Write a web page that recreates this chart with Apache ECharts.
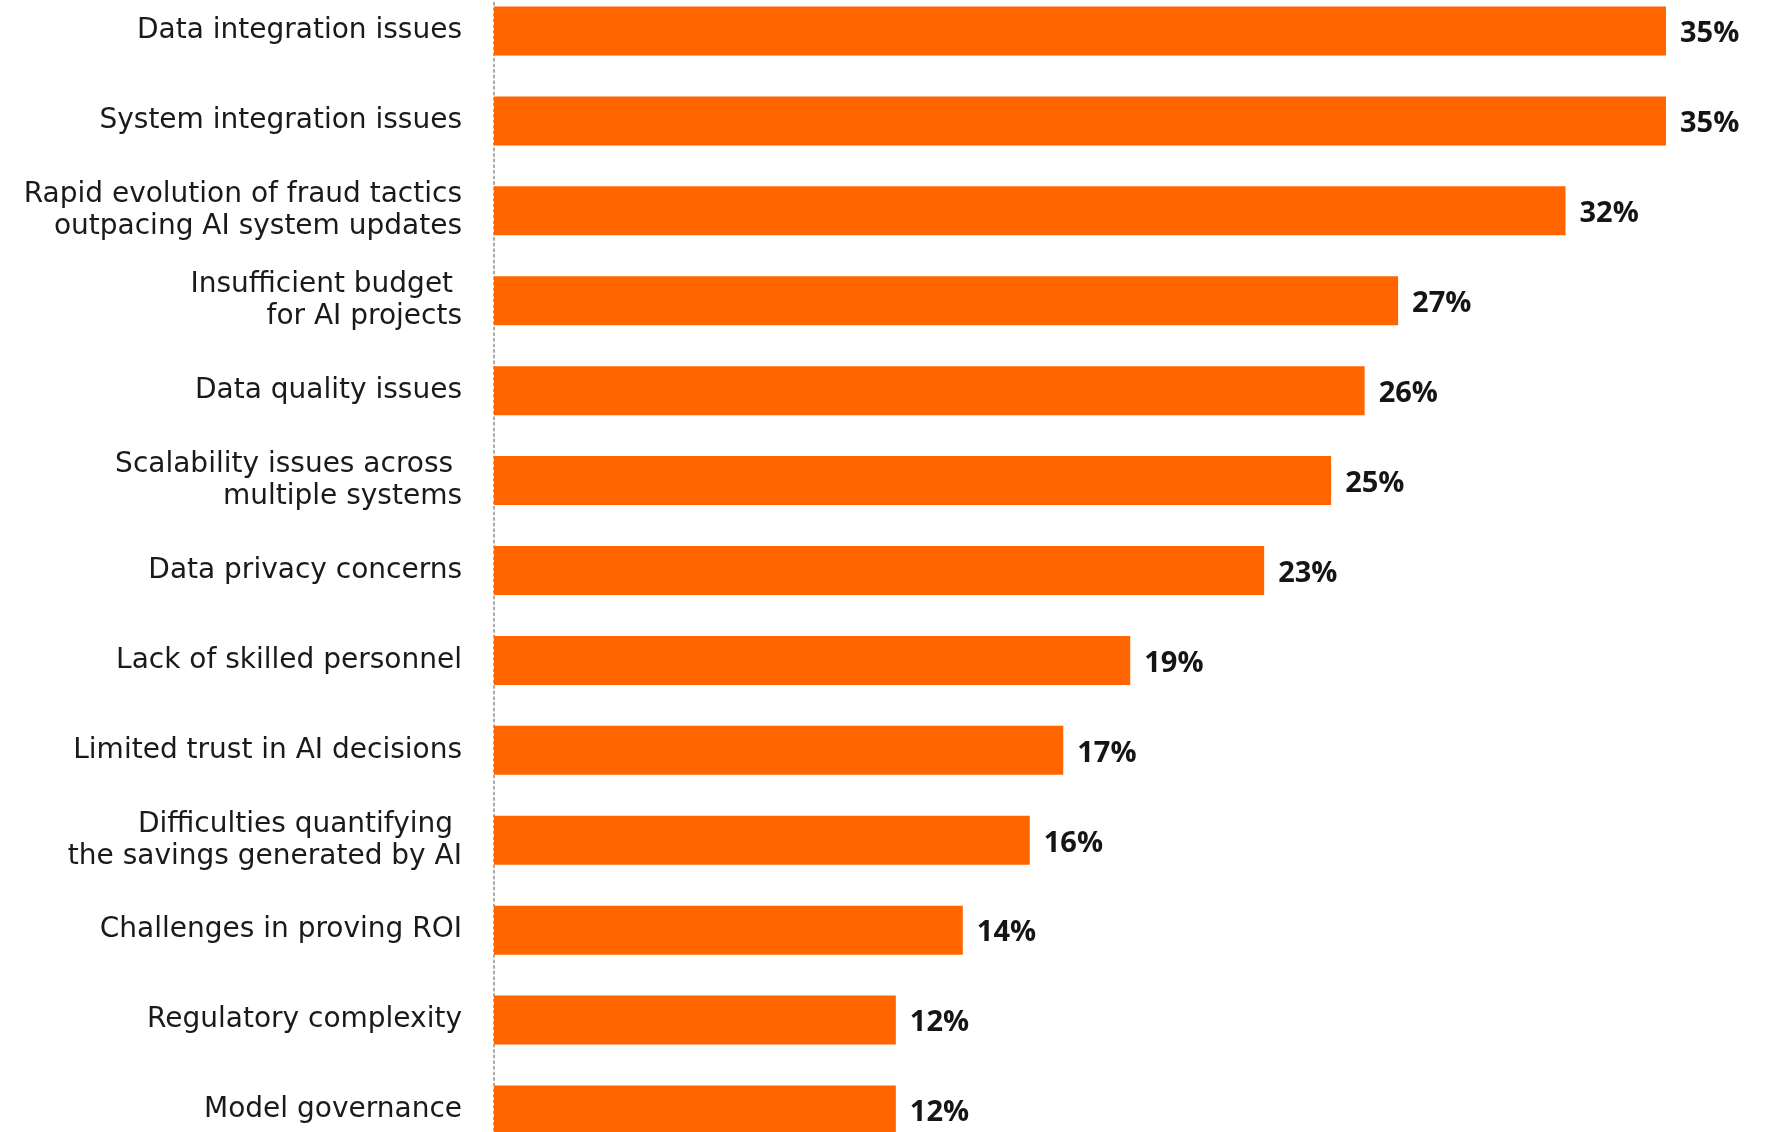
<!DOCTYPE html>
<html>
<head>
<meta charset="utf-8">
<title>Challenges in AI fraud prevention</title>
<script src="https://cdn.jsdelivr.net/npm/echarts@6/dist/echarts.min.js"></script>
<style>
  html, body { margin: 0; padding: 0; background: #ffffff; }
  #chart { width: 1772px; height: 1132px; }
</style>
</head>
<body>
<div id="chart"></div>
<script>
// Challenges, top to bottom
const categories = [
  'Data integration issues',
  'System integration issues',
  'Rapid evolution of fraud tactics\noutpacing AI system updates',
  'Insufficient budget \nfor AI projects',
  'Data quality issues',
  'Scalability issues across \nmultiple systems',
  'Data privacy concerns',
  'Lack of skilled personnel',
  'Limited trust in AI decisions',
  'Difficulties quantifying \nthe savings generated by AI',
  'Challenges in proving ROI',
  'Regulatory complexity',
  'Model governance'
];

// Share of respondents, percent
const shares = [35, 35, 32, 27, 26, 25, 23, 19, 17, 16, 14, 12, 12];

const BAR_COLOR = '#ff6600';
const LABEL_FONT = "'DejaVu Sans', sans-serif";
const VALUE_FONT = "'Open Sans', 'Noto Sans', sans-serif";

const chart = echarts.init(document.getElementById('chart'), null, { renderer: 'canvas' });

chart.setOption({
  backgroundColor: '#ffffff',
  animation: false,
  grid: {
    left: 494,
    right: 106,
    top: -14,
    height: 1169,
    containLabel: false,
    outerBoundsMode: 'none'
  },
  xAxis: {
    type: 'value',
    min: 0,
    max: 35,
    show: false
  },
  yAxis: {
    type: 'category',
    inverse: true,
    data: categories,
    axisTick: { show: false },
    axisLine: {
      show: true,
      lineStyle: { color: '#a9a9a9', width: 2, type: [2, 3.6] }
    },
    axisLabel: {
      margin: 32,
      fontFamily: LABEL_FONT,
      fontSize: 28,
      lineHeight: 32,
      color: '#1a1a1a',
      align: 'right'
    },
    splitLine: { show: false }
  },
  series: [{
    type: 'bar',
    data: shares,
    barWidth: 49,
    itemStyle: { color: BAR_COLOR },
    label: {
      show: true,
      position: 'right',
      distance: 14,
      offset: [0, 3],
      formatter: '{c}%',
      fontFamily: VALUE_FONT,
      fontSize: 29,
      fontWeight: 'bold',
      color: '#151515'
    }
  }]
});
</script>
</body>
</html>
